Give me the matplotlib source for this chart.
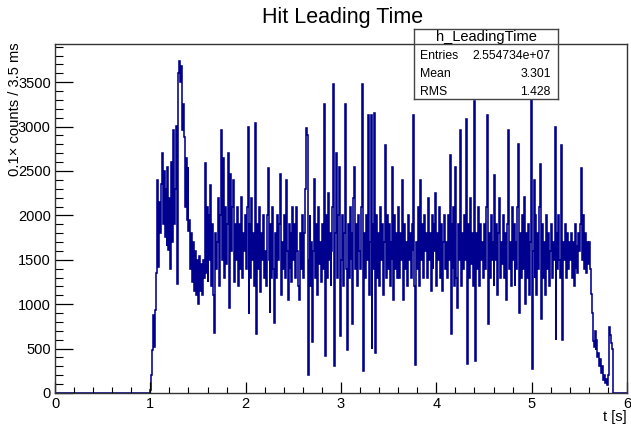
import numpy as np
import matplotlib
matplotlib.use("Agg")
from matplotlib import pyplot as plt
from matplotlib.ticker import MultipleLocator

plt.rcParams['font.family'] = ['Liberation Sans', 'DejaVu Sans']

# histogram h_LeadingTime (0.01 s per value, starting at t=1.00 s)
t_first = 1.0
t_width = 0.01
counts = [
    30, 200, 480, 880, 520, 940, 1350, 2400, 1420, 2150,          # 1.0
    1800, 2350, 2700, 1900, 2500, 1760, 2300, 1650, 2550, 1610,
    2200, 1400, 2600, 1700, 2960, 1900, 2300, 3010, 1230, 3600,
    3740, 3500, 3680, 2960, 3250, 2880, 2100, 2650, 1950, 2550,
    1820, 1950, 1400, 1800, 1250, 1700, 1150, 1600, 1100, 1500,
    1000, 1540, 1150, 1450, 1100, 1500, 1300, 2590, 1350, 2100,   # 1.5
    1250, 2000, 1500, 2340, 1200, 1900, 1100, 680, 1800, 1400,
    1700, 2200, 1210, 2000, 2960, 1500, 2650, 1300, 2100, 1450,
    1900, 2700, 1400, 955, 2470, 1600, 2100, 2400, 1250, 1900,
    1500, 2100, 1210, 1900, 1400, 2210, 1300, 1800, 1600, 2000,
    1400, 2100, 3000, 890, 1900, 1300, 2200, 1500, 1800, 1200,    # 2.0
    3040, 670, 1900, 1400, 2100, 1140, 1800, 1500, 2000, 1300,
    1600, 1200, 2000, 2530, 1500, 900, 1900, 1300, 2100, 1400,
    790, 1800, 1300, 2000, 1500, 1900, 2470, 1100, 1700, 1400,
    2000, 1300, 2400, 1600, 1050, 1900, 1400, 1800, 1250, 2100,
    1500, 1900, 1300, 2100, 1600, 1200, 1050, 1800, 1400, 2000,   # 2.5
    1300, 1800, 2300, 2980, 2900, 200, 1500, 2000, 1200, 1700,
    570, 1600, 2410, 1300, 1900, 1100, 2100, 1450, 1700, 1250,
    1900, 1400, 3250, 420, 2000, 1300, 2250, 1500, 1800, 1200,
    1600, 2100, 3480, 300, 1800, 2700, 1300, 2000, 2540, 640,
    1500, 2000, 1200, 1800, 3250, 1400, 480, 1900, 1300, 2100,    # 3.0
    1500, 1800, 780, 2200, 2540, 1400, 1900, 1200, 2000, 1600,
    1400, 2100, 3480, 250, 1800, 1300, 2000, 1500, 3130, 1100,
    1700, 3130, 500, 1900, 1400, 3150, 450, 2000, 1300, 1800,
    1200, 2100, 1500, 1900, 1100, 1700, 2790, 1300, 2000, 1400,
    1900, 1200, 1700, 1500, 2540, 1050, 2000, 1400, 1800, 1300,   # 3.5
    2100, 1300, 1800, 1500, 2400, 1050, 1900, 1400, 1700, 1200,
    2000, 1500, 1800, 1300, 1900, 1600, 3130, 1200, 310, 1700,
    1400, 2100, 1200, 2400, 1500, 1900, 1300, 2000, 1600, 1800,
    1300, 2200, 1500, 1800, 1150, 2000, 1400, 1900, 1600, 2250,
    1200, 1800, 1500, 2100, 1300, 1900, 1150, 1700, 2000, 1400,   # 4.0
    1700, 1300, 2000, 1500, 2680, 670, 1900, 1400, 2100, 1200,
    2540, 1300, 960, 1900, 1500, 2960, 1200, 1800, 1400, 2000,
    1500, 3090, 330, 1900, 1300, 2200, 1450, 1800, 1200, 2000,
    3290, 360, 1800, 1400, 2100, 1200, 1900, 1500, 1700, 1300,
    1900, 1400, 2100, 3130, 780, 1800, 1300, 2000, 1500, 1700,    # 4.5
    1200, 2450, 1500, 1900, 1100, 1800, 2200, 1300, 1700, 1450,
    2000, 1300, 1800, 1050, 1900, 2960, 1400, 1700, 1200, 2100,
    1500, 1900, 1200, 1700, 1400, 2100, 2800, 900, 1800, 1300,
    2000, 1400, 2210, 1000, 1800, 1300, 1900, 1100, 1700, 3310,
    270, 1600, 2400, 1300, 2000, 1100, 1800, 1400, 2100, 2580,    # 5.0
    830, 1900, 1300, 1700, 1100, 2000, 1400, 1800, 1200, 1600,
    1900, 1300, 1700, 1500, 3000, 600, 1800, 1400, 2000, 1500,
    1300, 2790, 600, 1700, 1500, 1900, 1300, 1800, 1400, 1700,
    1500, 1800, 1300, 1700, 1200, 1900, 1400, 1650, 1350, 1800,
    1600, 1900, 2530, 1500, 2000, 1400, 1800, 1350, 1700, 1450,   # 5.5
    1700, 1400, 1120, 900, 590, 520, 700, 480, 600, 400,
    450, 300, 380, 220, 300, 150, 200, 110, 160, 90,
    200, 740, 650, 560, 500,
]

stats_name = "h_LeadingTime"
stats_labels = ["Entries", "Mean", "RMS"]
stats_values = ["2.554734e+07", "3.301", "1.428"]

x_range = (0, 6)
y_max = 3930

fig = plt.figure(figsize=(6.31, 4.25), dpi=100)
ax = fig.add_axes([55/631, 32/425, 572/631, 349/425])

edges = np.concatenate([[x_range[0]],
                        t_first + t_width*np.arange(len(counts)+1),
                        [x_range[1]]])
vals = np.concatenate([[0], counts, [0]])
ax.stairs(vals, edges, color='#00008f', lw=1.15)

ax.set_xlim(*x_range)
ax.set_ylim(0, y_max)
ax.xaxis.set_major_locator(MultipleLocator(1))
ax.xaxis.set_minor_locator(MultipleLocator(0.2))
ax.yaxis.set_major_locator(MultipleLocator(500))
ax.yaxis.set_minor_locator(MultipleLocator(100))
ax.tick_params(axis='y', which='major', direction='in', length=13, width=0.9, labelsize=10.5, pad=3)
ax.tick_params(axis='y', which='minor', direction='in', length=6, width=0.8)
ax.tick_params(axis='x', which='major', direction='in', length=8, width=0.9, labelsize=10.5, pad=3)
ax.tick_params(axis='x', which='minor', direction='in', length=4, width=0.8)
for s in ax.spines.values():
    s.set_linewidth(1.0)
    s.set_color('#333333')

fig.text(343/631, 1-23/425, "Hit Leading Time", ha='center', va='baseline', fontsize=15.5)
fig.text(15/631, 1-42/425, "0.1× counts / 3.5 ms", rotation=90, ha='center', va='top', fontsize=10.6)
fig.text(627/631, 1-421/425, "t [s]", ha='right', va='baseline', fontsize=10.5)

# stats box
box = fig.add_axes([414/631, 1-99/425, 144/631, 70/425])
box.set_xticks([])
box.set_yticks([])
box.set_xlim(0, 1)
box.set_ylim(0, 1)
for s in box.spines.values():
    s.set_linewidth(1.0)
    s.set_color('#444444')
box.axhline(0.786, color='#444444', lw=1.0)
box.text(0.5, 0.89, stats_name, ha='center', va='center', fontsize=10.5)
for i, (lab, v) in enumerate(zip(stats_labels, stats_values)):
    yy = 0.62 - i*0.258
    box.text(0.04, yy, lab, ha='left', va='center', fontsize=8.8)
    box.text(0.95, yy, v, ha='right', va='center', fontsize=8.8)

fig.savefig("out.png", dpi=100)
